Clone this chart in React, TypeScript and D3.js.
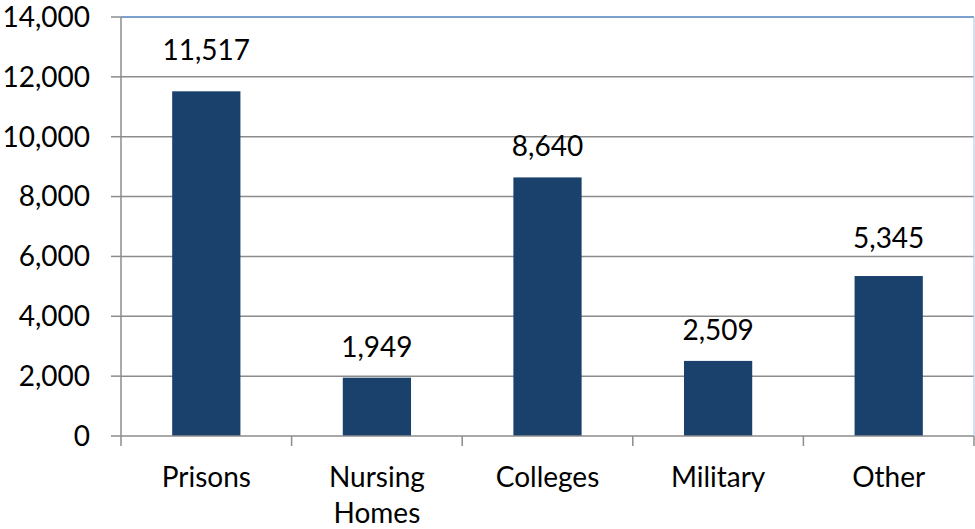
import React from "react";
import * as d3 from "d3";

const categories: string[][] = [["Prisons"], ["Nursing", "Homes"], ["Colleges"], ["Military"], ["Other"]];
const values: number[] = [11517, 1949, 8640, 2509, 5345];
const yTicks: number[] = [0, 2000, 4000, 6000, 8000, 10000, 12000, 14000];
const labelNudge: number[] = [10, 0, 0, 0, 7];

const W = 975;
const H = 529;
const M = { left: 121, right: 974, top: 17, bottom: 436 };
const FONT = "Lato, 'Open Sans', sans-serif";
const FS = 28;

export default function App() {
  const x = d3
    .scaleBand<number>()
    .domain(values.map((_, i) => i))
    .range([M.left, M.right])
    .paddingInner(0.6)
    .paddingOuter(0.3);
  const y = d3.scaleLinear().domain([0, 14000]).range([M.bottom, M.top]);
  const fmt = d3.format(",");
  const bounds = d3.range(values.length + 1).map((i) => M.left + i * ((M.right - M.left) / values.length));

  return (
    <svg width={W} height={H} style={{ position: "absolute", left: 0, top: 0, background: "#fff" }} fontFamily={FONT}>
      {yTicks.filter((t) => t > 0 && t < 14000).map((t) => (
        <line key={t} x1={M.left} x2={M.right} y1={y(t)} y2={y(t)} stroke="#8c8c8c" strokeWidth={1.5} />
      ))}
      <line x1={M.left} x2={M.right} y1={y(14000)} y2={y(14000)} stroke="#4f81bd" strokeWidth={1.5} />
      <line x1={M.right} x2={M.right} y1={M.top} y2={M.bottom} stroke="#b9cde5" strokeWidth={1.2} />
      {values.map((v, i) => (
        <rect key={i} x={x(i)} y={y(v)} width={x.bandwidth()} height={y(0) - y(v)} fill="#1a406c" />
      ))}
      {values.map((v, i) => (
        <text key={i} x={(x(i) as number) + x.bandwidth() / 2} y={y(v) - 21 - labelNudge[i]} textAnchor="middle" fontSize={FS} fill="#000">
          {fmt(v)}
        </text>
      ))}
      <line x1={M.left} x2={M.left} y1={M.top} y2={M.bottom} stroke="#8c8c8c" strokeWidth={1.5} />
      {yTicks.map((t) => (
        <g key={t}>
          <line x1={M.left - 10} x2={M.left} y1={y(t)} y2={y(t)} stroke="#8c8c8c" strokeWidth={1.5} />
          <text x={90} y={y(t)} dy="0.35em" textAnchor="end" fontSize={FS} fill="#000">
            {fmt(t)}
          </text>
        </g>
      ))}
      <line x1={M.left} x2={M.right} y1={M.bottom} y2={M.bottom} stroke="#8c8c8c" strokeWidth={1.5} />
      {bounds.map((b, i) => (
        <line key={i} x1={b} x2={b} y1={M.bottom} y2={M.bottom + 10} stroke="#8c8c8c" strokeWidth={1.5} />
      ))}
      {categories.map((lines, i) => (
        <text key={i} x={(x(i) as number) + x.bandwidth() / 2} y={487} textAnchor="middle" fontSize={FS} fill="#000">
          {lines.map((l, j) => (
            <tspan key={j} x={(x(i) as number) + x.bandwidth() / 2} dy={j === 0 ? 0 : 36}>
              {l}
            </tspan>
          ))}
        </text>
      ))}
    </svg>
  );
}
